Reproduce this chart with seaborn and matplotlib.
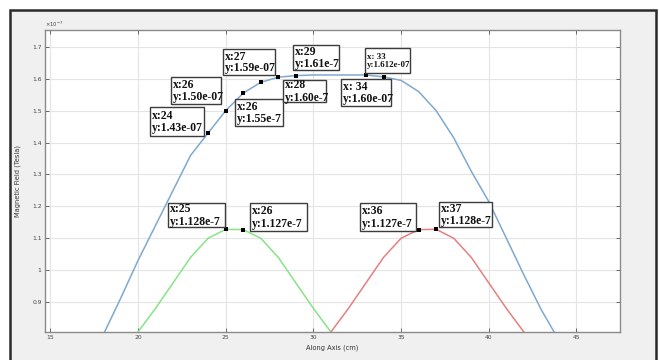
import matplotlib
matplotlib.use("Agg")
import matplotlib.pyplot as plt
from matplotlib.patches import Rectangle
import seaborn as sns
import pandas as pd

# ---------------- data (field values in units of 1e-7 T) ----------------
blue_x = list(range(18, 45))
blue_field = [0.795, 0.91, 1.03, 1.14, 1.25, 1.36, 1.43, 1.50, 1.555, 1.589,
              1.605, 1.61, 1.612, 1.612, 1.612, 1.612, 1.606, 1.595, 1.56, 1.50,
              1.415, 1.31, 1.215, 1.10, 0.985, 0.875, 0.78]
green_x = list(range(20, 32))
green_field = [0.806, 0.88, 0.96, 1.04, 1.10, 1.128, 1.127, 1.10, 1.04, 0.96, 0.88, 0.806]
red_x = list(range(31, 43))
red_field = [0.806, 0.88, 0.96, 1.04, 1.10, 1.127, 1.128, 1.10, 1.04, 0.96, 0.88, 0.806]

blue_tip_x = [24, 25, 26, 27, 28, 29, 33, 34]
green_tip_x = [25, 26]
red_tip_x = [36, 37]

x_ticks = [15, 20, 25, 30, 35, 40, 45]
y_ticks = [0.9, 1.0, 1.1, 1.2, 1.3, 1.4, 1.5, 1.6, 1.7]
y_tick_labels = ["0.9", "1", "1.1", "1.2", "1.3", "1.4", "1.5", "1.6", "1.7"]

tip_texts = ["x:24\ny:1.43e-07", "x:26\ny:1.50e-07", "x:27\ny:1.59e-07",
             "x:26\ny:1.55e-7", "x:28\ny:1.60e-7", "x:29\ny:1.61e-7",
             "x: 33\ny:1.612e-07", "x: 34\ny:1.60e-07",
             "x:25\ny:1.128e-7", "x:26\ny:1.127e-7",
             "x:36\ny:1.127e-7", "x:37\ny:1.128e-7"]

# ---------------- layout (pixels) ----------------
W, H = 659, 360
tip_boxes = [(150, 107, 204, 136), (171, 77, 221, 104), (223, 49, 275, 75),
             (235, 99, 283, 126), (283, 80, 326, 102), (293, 45, 339, 70),
             (365, 48, 410, 73), (341, 79, 391, 106),
             (168, 203, 225, 227), (250, 203, 307, 231),
             (360, 203, 416, 231), (439, 202, 492, 227)]
tip_sizes = [8.5, 8.5, 8.5, 8.5, 8.3, 8.5, 6.4, 8.5, 8.5, 8.5, 8.5, 8.5]

sns.set_theme(style="white")
plt.rcParams['font.family'] = ['DejaVu Sans']

fig = plt.figure(figsize=(W / 100, H / 100), dpi=100, facecolor="white")
fig.patches.append(Rectangle((10 / W, -0.1), (656 - 10) / W, 1 - 10 / H + 0.1,
                             transform=fig.transFigure, facecolor="#f0f0f0",
                             edgecolor="#2a2a2a", linewidth=1.8, zorder=-5))

ax = fig.add_axes([45 / W, 1 - 332 / H, 575 / W, 302 / H])
ax.set_zorder(1)
ax.set_facecolor("white")

df = pd.concat([
    pd.DataFrame({"x": blue_x, "B": blue_field, "s": "blue"}),
    pd.DataFrame({"x": green_x, "B": green_field, "s": "green"}),
    pd.DataFrame({"x": red_x, "B": red_field, "s": "red"}),
])
palette = {"blue": "#7fa8d2", "green": "#86e486", "red": "#e58080"}
sns.lineplot(data=df, x="x", y="B", hue="s", palette=palette, estimator=None,
             legend=False, ax=ax, linewidth=1.1)

bmap = dict(zip(blue_x, blue_field))
gmap = dict(zip(green_x, green_field))
rmap = dict(zip(red_x, red_field))
tips = pd.DataFrame({
    "x": blue_tip_x + green_tip_x + red_tip_x,
    "B": [bmap[v] for v in blue_tip_x] + [gmap[v] for v in green_tip_x] + [rmap[v] for v in red_tip_x],
})
sns.scatterplot(data=tips, x="x", y="B", marker="s", color="black", s=7,
                linewidth=0, ax=ax, zorder=4)

ax.set_xlim(14.7, 47.48)
ax.set_ylim(0.806, 1.753)
ax.set_xticks(x_ticks)
ax.set_xticklabels([str(t) for t in x_ticks])
ax.set_yticks(y_ticks)
ax.set_yticklabels(y_tick_labels)
ax.grid(True, color="#e4e4e4", linewidth=0.8)
ax.set_axisbelow(True)
ax.tick_params(direction="in", length=3, width=0.7, colors="#666666",
               labelcolor="#444444", labelsize=4.3, top=True, right=True,
               bottom=True, left=True, pad=2.5)
for sp in ax.spines.values():
    sp.set_color("#8a8a8a")
    sp.set_linewidth(1.0)
ax.set_xlabel("Along Axis (cm)", fontsize=4.8, color="#333333", labelpad=3)
ax.set_ylabel("Magnetic Field (Tesla)", fontsize=4.8, color="#333333", labelpad=8)
ax.text(0.0, 1.004, r"$\times10^{-7}$", transform=ax.transAxes, fontsize=3.8,
        color="#444444", ha="left", va="bottom")

for (x0, y0, x1, y1), txt, fs in zip(tip_boxes, tip_texts, tip_sizes):
    fig.patches.append(Rectangle((x0 / W, 1 - y1 / H), (x1 - x0) / W, (y1 - y0) / H,
                                 transform=fig.transFigure, facecolor="white",
                                 edgecolor="#3c3c3c", linewidth=1.0, zorder=5))
    fig.text((x0 + 2) / W, 1 - ((y0 + y1) / 2 + 0.5) / H, txt, fontsize=fs,
             fontweight="bold", family=["Liberation Serif"], color="#111111",
             ha="left", va="center", linespacing=1.0, zorder=6)

fig.savefig("out.png", dpi=100, facecolor="white")
